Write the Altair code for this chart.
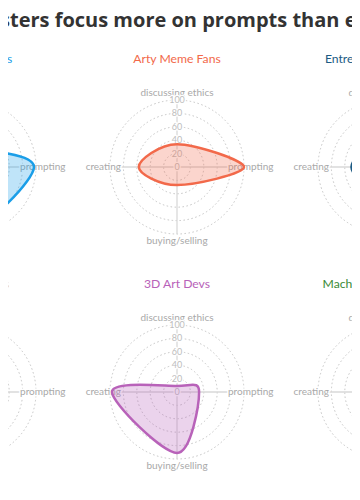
import altair as alt
import pandas as pd

# ---------------- data ----------------
TITLE = "AI posters focus more on prompts than ethics"
groups = ["AI Artist Friends", "Arty Meme Fans", "Entrepreneurial Artists",
          "NFT Collectors", "3D Art Devs", "Machine Learning Devs"]
colors = ["#1a9ee8", "#f2694a", "#1d5b84", "#e9c33b", "#b862b9", "#3a8a36"]
axis_names = ["discussing ethics", "prompting", "buying/selling", "creating"]
ethics = [25, 34, 40, 22, 9, 55]
prompting = [97, 100, 40, 30, 33, 30]
buying = [90, 27, 40, 60, 91, 12]
creating = [80, 57, 50, 70, 97, 22]
ring_levels = [20, 40, 60, 80, 100]
tick_values = [0, 20, 40, 60, 80, 100]

# ---------------- layout ----------------
PX = 0.67                      # pixels per value unit
COL_X = [-310.4, 0.0, 310.4]   # panel centres (value units)
ROW_Y = [0.0, -335.8]
W, H = 344, 470
CX0, CY0 = 169, 159            # middle-top panel centre inside the svg (px)
XDOM = [-CX0 / PX, (W - CX0) / PX]
YDOM = [-(H - CY0) / PX, CY0 / PX]
DIRS = [(0, 1), (1, 0), (0, -1), (-1, 0)]
LABEL_R = 110
TITLE_DY = 154.5

xs = alt.Scale(domain=XDOM, nice=False, zero=False)
ys = alt.Scale(domain=YDOM, nice=False, zero=False)
X = lambda f="x": alt.X(f"{f}:Q", scale=xs, axis=None)
Y = lambda f="y": alt.Y(f"{f}:Q", scale=ys, axis=None)
col_scale = alt.Scale(domain=groups, range=colors)

shape_rows, ring_rows, rule_rows, lab_rows, tick_rows, title_rows = [], [], [], [], [], []
for i, g in enumerate(groups):
    cx, cy = COL_X[i % 3], ROW_Y[i // 3]
    vals = [ethics[i], prompting[i], buying[i], creating[i]]
    for k, (v, (dx, dy)) in enumerate(zip(vals, DIRS)):
        shape_rows.append({"group": g, "idx": k, "x": cx + dx * v, "y": cy + dy * v})
        lab_rows.append({"label": axis_names[k], "x": cx + dx * LABEL_R, "y": cy + dy * LABEL_R})
    for r in ring_levels:
        ring_rows.append({"x": cx, "y": cy, "r": r})
    rule_rows.append({"x": cx - 100, "x2": cx + 100, "y": cy, "y2": cy})
    rule_rows.append({"x": cx, "x2": cx, "y": cy - 100, "y2": cy + 100})
    for t in tick_values:
        tick_rows.append({"label": str(t), "x": cx, "y": cy + t})
    title_rows.append({"group": g, "x": cx, "y": cy + TITLE_DY})

shapes = pd.DataFrame(shape_rows)
rings = pd.DataFrame(ring_rows)
rules = pd.DataFrame(rule_rows)
labs = pd.DataFrame(lab_rows)
ticks = pd.DataFrame(tick_rows)
titles = pd.DataFrame(title_rows)
main_title = pd.DataFrame([{"label": TITLE, "x": 0.0, "y": (CY0 - 19) / PX}])

ring_layer = alt.Chart(rings).mark_point(
    shape="circle", filled=False, stroke="#c4c4c4", strokeWidth=1,
    strokeDash=[1.5, 2.5], opacity=1
).encode(
    x=X(), y=Y(),
    size=alt.Size("r:Q", scale=alt.Scale(type="pow", exponent=2, domain=[0, 100],
                                         range=[0, (200 * PX) ** 2]), legend=None),
)

rule_layer = alt.Chart(rules).mark_rule(color="#d9d9d9", strokeWidth=1.3).encode(
    x=X(), x2="x2:Q", y=Y(), y2="y2:Q"
)

lab_halo = alt.Chart(labs).mark_text(
    font="Lato", fontSize=10, stroke="white", strokeWidth=3, strokeJoin="round",
    fill="white", align="center", baseline="middle"
).encode(x=X(), y=Y(), text="label:N")
lab_text = alt.Chart(labs).mark_text(
    font="Lato", fontSize=10, fill="#a9a9a9", align="center", baseline="middle"
).encode(x=X(), y=Y(), text="label:N")

tick_halo = alt.Chart(ticks).mark_text(
    font="Lato", fontSize=9, stroke="white", strokeWidth=2.5, strokeJoin="round",
    fill="white", align="center", baseline="middle"
).encode(x=X(), y=Y(), text="label:N")
tick_text = alt.Chart(ticks).mark_text(
    font="Lato", fontSize=9, fill="#bdbdbd", align="center", baseline="middle"
).encode(x=X(), y=Y(), text="label:N")

shape_layer = alt.Chart(shapes).mark_line(
    interpolate="cardinal-closed", strokeWidth=2.5, fillOpacity=0.28
).encode(
    x=X(), y=Y(),
    stroke=alt.Stroke("group:N", scale=col_scale, legend=None),
    fill=alt.Fill("group:N", scale=col_scale, legend=None),
    order=alt.Order("idx:Q"),
)

title_layer = alt.Chart(titles).mark_text(
    font="Lato", fontSize=12.2, align="center", baseline="alphabetic"
).encode(
    x=X(), y=Y(), text="group:N",
    color=alt.Color("group:N", scale=col_scale, legend=None),
)

main_layer = alt.Chart(main_title).mark_text(
    font="Open Sans", fontSize=20, fontWeight="bold", fill="#333333",
    align="center", baseline="alphabetic"
).encode(x=X(), y=Y(), text="label:N")

chart = alt.layer(
    ring_layer, rule_layer, lab_halo, lab_text, tick_halo, tick_text,
    shape_layer, title_layer, main_layer
).properties(
    width=W, height=H, padding=0, autosize=alt.AutoSizeParams(type="none")
).configure_view(stroke=None)

chart.save("out.html", embed_options={"renderer": "svg", "actions": False})
